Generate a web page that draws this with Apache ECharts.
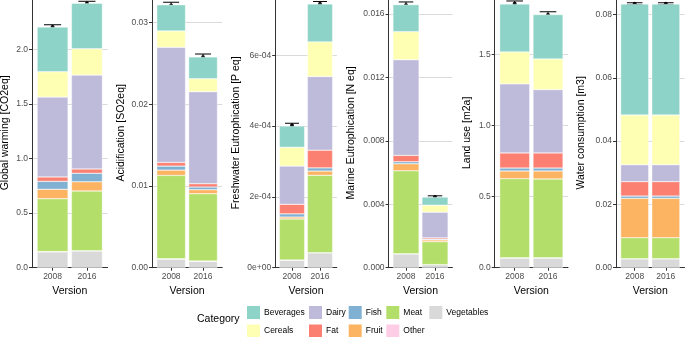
<!DOCTYPE html>
<html>
<head>
<meta charset="utf-8">
<script src="https://cdn.jsdelivr.net/npm/echarts@6/dist/echarts.min.js"></script>
<style>
  html, body { margin: 0; padding: 0; background: #fff; }
  #chart { width: 685px; height: 337px; }
</style>
</head>
<body>
<div id="chart"></div>
<script>
// categories in legend order (ggplot stacks the first one on top)
const versions = ['2008', '2016'];
const categories = ['Beverages', 'Cereals', 'Dairy', 'Fat', 'Fish', 'Fruit', 'Meat', 'Other', 'Vegetables'];
const impactNames = ['Global warming [CO2eq]', 'Acidification [SO2eq]', 'Freshwater Eutrophication [P eq]',
    'Marine Eutrophication [N eq]', 'Land use [m2a]', 'Water consumption [m3]'];

// contribution of each category, same order as categories
const globalWarming2008 = [0.409, 0.232, 0.732, 0.040, 0.073, 0.086, 0.484, 0.003, 0.145];
const globalWarming2016 = [0.416, 0.241, 0.860, 0.039, 0.078, 0.084, 0.547, 0.003, 0.153];
const acidification2008 = [0.0032, 0.0020, 0.0141, 0.00045, 0.00049, 0.00065, 0.0102, 0.00005, 0.00105];
const acidification2016 = [0.00266, 0.00159, 0.01127, 0.00040, 0.00033, 0.00049, 0.00824, 0.00005, 0.00077];
const freshwater2008 = [6.0e-5, 5.3e-5, 1.08e-4, 2.7e-5, 9e-6, 5.4e-6, 1.16e-4, 7e-7, 2.1e-5];
const freshwater2016 = [1.07e-4, 9.8e-5, 2.08e-4, 5.0e-5, 9e-6, 1.2e-5, 2.185e-4, 5e-7, 4.2e-5];
const marine2008 = [0.0017, 0.00177, 0.00603, 0.0004, 0.00013, 0.00044, 0.005235, 0.000005, 0.00087];
const marine2016 = [0.00051, 0.00044, 0.00162, 0.00008, 0.00005, 0.00011, 0.001445, 0.000005, 0.00019];
const landUse2008 = [0.338, 0.225, 0.486, 0.106, 0.021, 0.054, 0.557, 0.002, 0.068];
const landUse2016 = [0.312, 0.216, 0.446, 0.106, 0.021, 0.056, 0.555, 0.002, 0.068];
const water2008 = [0.03505, 0.01571, 0.00534, 0.00455, 0.00075, 0.01242, 0.00664, 0.00004, 0.0028];
const water2016 = [0.03505, 0.01571, 0.00534, 0.00455, 0.00075, 0.01242, 0.00664, 0.00004, 0.0028];

// totals with error bars, one per panel
const means2008 = [2.205, 0.0321, 4.02e-4, 0.01655, 1.858, 0.0834];
const means2016 = [2.42, 0.02576, 7.45e-4, 0.00445, 1.78, 0.0834];
const errors2008 = [0.02, 0.0004, 6e-6, 0.0002, 0.02, 0.0003];
const errors2016 = [0.02, 0.0004, 7e-6, 0.00008, 0.022, 0.0003];

// y axis ticks
const yIntervals = [0.5, 0.01, 2e-4, 0.004, 0.5, 0.02];
const yDecimals = [1, 2, null, 3, 1, 2];

const panels2008 = [globalWarming2008, acidification2008, freshwater2008, marine2008, landUse2008, water2008];
const panels2016 = [globalWarming2016, acidification2016, freshwater2016, marine2016, landUse2016, water2016];

// layout
const colors = ['#8DD3C7', '#FFFFB3', '#BEBADA', '#FB8072', '#80B1D3', '#FDB462', '#B3DE69', '#FCCDE5', '#D9D9D9'];
const gridLeft = [32, 152, 275.2, 388.6, 494.7, 616];
const gridWidth = [75.5, 70.2, 61.6, 63.8, 73.3, 68.5];
const yMax = [2.470, 0.03302, 7.618e-4, 0.01700, 1.899, 0.08521];
const nameGaps = [21, 25.5, 34, 31.5, 22, 29];
const font = 'Liberation Sans';

function sci(v) {
    if (v === 0) return '0e+00';
    const parts = v.toExponential(0).split('e');
    const sign = parts[1][0];
    return parts[0] + 'e' + sign + parts[1].slice(1).padStart(2, '0');
}

const grids = [], xAxes = [], yAxes = [], series = [];
for (let p = 0; p < 6; p++) {
    grids.push({ left: gridLeft[p], width: gridWidth[p], top: -2, height: 269.7, outerBoundsMode: 'none' });
    xAxes.push({
        gridIndex: p, type: 'value', min: 0.4, max: 2.6,
        name: 'Version', nameLocation: 'middle', nameGap: 15,
        nameTextStyle: { fontFamily: font, fontSize: 10.5, color: '#000' },
        axisLine: { show: true, onZero: false, lineStyle: { color: '#333', width: 1 } },
        axisTick: { show: true, length: 3, customValues: [1, 2], lineStyle: { color: '#333' } },
        axisLabel: {
            customValues: [1, 2], margin: 4, fontFamily: font, fontSize: 8.5, color: '#4d4d4d',
            formatter: v => versions[Math.round(v) - 1]
        },
        splitLine: { show: false }
    });
    yAxes.push({
        gridIndex: p, type: 'value', min: 0, max: yMax[p], interval: yIntervals[p],
        name: impactNames[p], nameLocation: 'middle', nameGap: nameGaps[p],
        nameTextStyle: { fontFamily: font, fontSize: 10.5, color: '#000' },
        axisLine: { show: true, onZero: false, lineStyle: { color: '#333', width: 1 } },
        axisTick: { show: true, length: 3, lineStyle: { color: '#333' } },
        axisLabel: {
            margin: 4, fontFamily: font, fontSize: 8.5, color: '#4d4d4d', showMaxLabel: false,
            formatter: v => yDecimals[p] === null ? sci(v) : v.toFixed(yDecimals[p])
        },
        splitLine: { show: true, lineStyle: { color: '#dadada', width: 1 } }
    });
    const barWidth = 0.9 * gridWidth[p] / 2.2;
    // bottom of the stack first
    for (let c = categories.length - 1; c >= 0; c--) {
        series.push({
            type: 'bar', name: categories[c], xAxisIndex: p, yAxisIndex: p, stack: 'panel' + p,
            barWidth: barWidth, encode: { x: 1, y: 0 },
            itemStyle: { color: colors[c], borderColor: '#fff', borderWidth: 0.4 },
            data: [[panels2008[p][c], 1], [panels2016[p][c], 2]]
        });
    }
    series.push({
        type: 'custom', xAxisIndex: p, yAxisIndex: p, encode: { x: 0, y: 1 },
        data: [[1, means2008[p], errors2008[p]], [2, means2016[p], errors2016[p]]],
        renderItem: function (params, api) {
            const x = api.value(0), m = api.value(1), e = api.value(2);
            const top = api.coord([x, m + e]), bot = api.coord([x, m - e]), mid = api.coord([x, m]);
            const half = api.size([0.25, 0])[0];
            const st = { stroke: '#000', lineWidth: 1 };
            return {
                type: 'group', children: [
                    { type: 'line', shape: { x1: top[0], y1: top[1], x2: bot[0], y2: bot[1] }, style: st },
                    { type: 'line', shape: { x1: top[0] - half, y1: top[1], x2: top[0] + half, y2: top[1] }, style: st },
                    { type: 'line', shape: { x1: bot[0] - half, y1: bot[1], x2: bot[0] + half, y2: bot[1] }, style: st },
                    { type: 'circle', shape: { cx: mid[0], cy: mid[1], r: 2 }, style: { fill: '#000' } }
                ]
            };
        }
    });
}

const legendCols = [['Beverages', 'Cereals'], ['Dairy', 'Fat'], ['Fish', 'Fruit'], ['Meat', 'Other'], ['Vegetables']];
const legendLeft = [245, 307, 346.7, 384.3, 427.3];
const legends = legendCols.map((col, i) => ({
    data: col, orient: 'vertical', left: legendLeft[i], top: 304, height: 60, padding: 0,
    itemWidth: 15, itemHeight: 15, itemGap: 1.5, icon: 'rect', selectedMode: false,
    textStyle: { fontFamily: font, fontSize: 8.5, color: '#000', padding: [0, 0, 0, -2] }
}));

const chart = echarts.init(document.getElementById('chart'));
chart.setOption({
    animation: false,
    title: { text: 'Category', left: 197, top: 314, padding: 0,
        textStyle: { fontFamily: font, fontSize: 10.5, fontWeight: 'normal', color: '#000' } },
    legend: legends,
    grid: grids,
    xAxis: xAxes,
    yAxis: yAxes,
    series: series
});
</script>
</body>
</html>
